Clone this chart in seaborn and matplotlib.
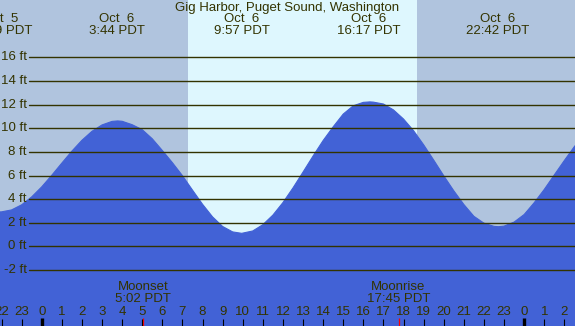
import matplotlib
matplotlib.use("Agg")
import matplotlib.pyplot as plt
import seaborn as sns
import pandas as pd

# ---- data ----
hours = [-2.5, -2.02, -1.5, -1.0, -0.5, 0.0, 0.5, 1.0, 1.5, 2.0, 2.5, 3.0, 3.5, 3.78,
         4.0, 4.5, 5.0, 5.5, 6.0, 6.5, 7.0, 7.5, 8.0, 8.5, 9.0, 9.5, 9.95,
         10.5, 11.0, 11.5, 12.0, 12.5, 13.0, 13.5, 14.0, 14.5, 15.0, 15.5, 16.0, 16.33,
         16.5, 17.0, 17.5, 18.0, 18.5, 19.0, 19.5, 20.0, 20.5, 21.0, 21.5, 22.0, 22.5, 22.72,
         23.0, 23.5, 24.0, 24.5, 25.0, 25.5, 26.0, 26.5, 27.0]
heights = [2.97, 2.92, 3.09, 3.52, 4.19, 5.04, 6.02, 7.05, 8.06, 8.98, 9.74, 10.28, 10.58, 10.62,
           10.59, 10.30, 9.88, 9.11, 8.12, 7.09, 5.99, 4.77, 3.57, 2.50, 1.69, 1.23, 1.11,
           1.31, 1.84, 2.65, 3.71, 4.95, 6.29, 7.65, 8.96, 10.12, 11.2, 11.9, 12.19, 12.23,
           12.21, 12.05, 11.55, 10.78, 9.79, 8.60, 7.31, 5.98, 4.71, 3.55, 2.55, 1.97, 1.70, 1.67,
           1.72, 2.06, 2.70, 3.70, 4.82, 6.05, 7.27, 8.45, 9.45]

extreme_hours = [-2.02, 3.73, 9.95, 16.28, 22.7]
extreme_dates = ["Oct  5", "Oct  6", "Oct  6", "Oct  6", "Oct  6"]
extreme_times = ["21:59 PDT", "3:44 PDT", "9:57 PDT", "16:17 PDT", "22:42 PDT"]

sunrise, sunset = 7.28, 18.67
moon_hours = [5.033, 17.75]
moon_names = ["Moonset", "Moonrise"]
moon_times = ["5:02 PDT", "17:45 PDT"]

ft_levels = [-2, 0, 2, 4, 6, 8, 10, 12, 14, 16]
ft_labels = ["-2 ft", "0 ft", "2 ft", "4 ft", "6 ft", "8 ft", "10 ft", "12 ft", "14 ft", "16 ft"]

tick_hours = list(range(-2, 27))
tick_labels = ["22", "23"] + [str(h) for h in range(24)] + ["0", "1", "2"]

title = "Gig Harbor, Puget Sound, Washington"

# ---- styling ----
W, H = 575, 326
night = "#B0C4DE"
day = "#DEF7FE"
water = "#4262D6"
ink = "#333300"

sns.set_style("white")
plt.rcParams["font.family"] = ["Liberation Sans", "DejaVu Sans"]
fs = 9.5

fig = plt.figure(figsize=(W / 100, H / 100), dpi=100)
ax = fig.add_axes([0, 0, 1, 1])
ax.set_facecolor(night)
for s in ax.spines.values():
    s.set_visible(False)

ax.axvspan(sunrise, sunset, color=day, zorder=0, lw=0)

df = pd.DataFrame({"hour": hours, "ft": heights})
ax.fill_between(df["hour"], df["ft"], -10, color=water, lw=0, zorder=1)
sns.lineplot(data=df, x="hour", y="ft", ax=ax, color=water, lw=0.8, zorder=1, sort=False)
ax.set_xlabel("")
ax.set_ylabel("")
ax.set_xlim(-2.075, 26.53)
ax.set_ylim(-6.73, 20.85)
ax.set_xticks([])
ax.set_yticks([])

# horizontal grid lines and labels
for lv, lab in zip(ft_levels, ft_labels):
    ax.axhline(lv, xmin=29 / W, xmax=1, color=ink, lw=1.0, zorder=2)
    ax.text(27 / W, lv, lab, transform=ax.get_yaxis_transform(), ha="right", va="center",
            color=ink, fontsize=fs, zorder=3)

xt = ax.get_xaxis_transform()
# title
ax.text(0.5, 1 - 7.5 / H, title, transform=ax.transAxes, ha="center", va="center",
        color=ink, fontsize=fs, zorder=3)
# extremes labels
for hx, d, t in zip(extreme_hours, extreme_dates, extreme_times):
    ax.text(hx, 1 - 19.5 / H, d, transform=xt, ha="center", va="center", color=ink, fontsize=fs, zorder=3)
    ax.text(hx, 1 - 31.5 / H, t, transform=xt, ha="center", va="center", color=ink, fontsize=fs, zorder=3)

# moon labels
for hx, n, t in zip(moon_hours, moon_names, moon_times):
    ax.text(hx, 1 - 287.5 / H, n, transform=xt, ha="center", va="center", color=ink, fontsize=fs, zorder=3)
    ax.text(hx, 1 - 299.5 / H, t, transform=xt, ha="center", va="center", color=ink, fontsize=fs, zorder=3)
    ax.plot([hx, hx], [0, 8 / H], transform=xt, color="red", lw=0.9, zorder=3,
            solid_capstyle="butt")

# hour ticks
for hx, lab in zip(tick_hours, tick_labels):
    ax.text(hx, 1 - 312 / H, lab, transform=xt, ha="center", va="center", color=ink, fontsize=fs, zorder=3)
    if lab == "0":
        ax.plot([hx, hx], [0, 8 / H], transform=xt, color="black", lw=2.4, zorder=3,
                solid_capstyle="butt")
    else:
        ax.plot([hx, hx], [0, 7 / H], transform=xt, color="black", lw=0.8, zorder=3,
                solid_capstyle="butt")

fig.savefig("out.png", dpi=100)
